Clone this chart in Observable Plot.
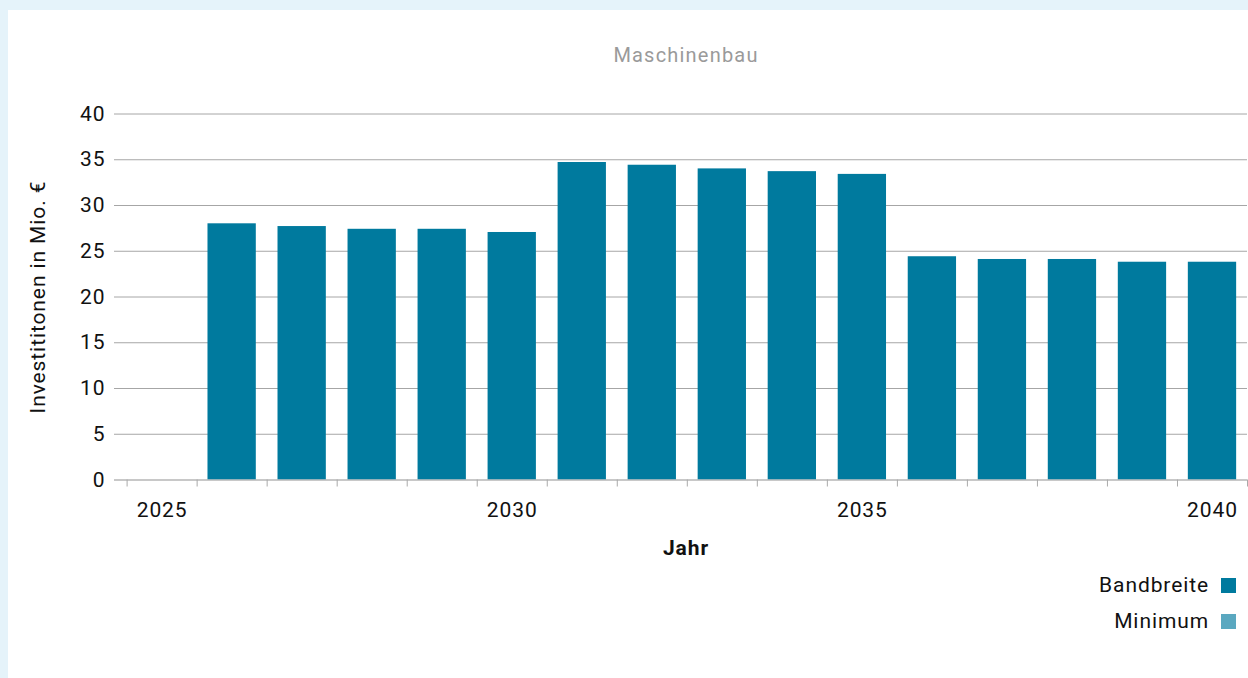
<!DOCTYPE html>
<html>
<head>
<meta charset="utf-8">
<script src="https://cdn.jsdelivr.net/npm/d3@7"></script>
<script src="https://cdn.jsdelivr.net/npm/@observablehq/plot@0.6"></script>
<style>
  html, body { margin: 0; padding: 0; }
  body { background: #e5f3fa; font-family: Roboto, "DejaVu Sans", sans-serif; width: 1248px; height: 678px; overflow: hidden; }
  #panel { position: absolute; left: 8px; top: 10px; width: 1240px; height: 668px; background: #fff; }
  #title { position: absolute; left: 528px; width: 300px; top: 35px; text-align: center; font-size: 20px; line-height: 20px; color: #9a9a9a; letter-spacing: 1.2px; }
  #chart { position: absolute; left: 0; top: 80px; }
  #legend { position: absolute; right: 12px; top: 563px; font-size: 21px; color: #111; letter-spacing: 0.9px; }
  .item { display: flex; align-items: center; justify-content: flex-end; height: 24px; margin-bottom: 12px; }
  .sw { width: 15px; height: 15px; margin-left: 12px; }
</style>
</head>
<body>
<div id="panel">
  <div id="title"></div>
  <div id="chart"></div>
  <div id="legend"></div>
</div>
<script>
const title = "Maschinenbau";
const yLabel = "Investititonen in Mio. €";
const xLabel = "Jahr";
const allYears = [2025, 2026, 2027, 2028, 2029, 2030, 2031, 2032, 2033, 2034, 2035, 2036, 2037, 2038, 2039, 2040];
const years = [2026, 2027, 2028, 2029, 2030, 2031, 2032, 2033, 2034, 2035, 2036, 2037, 2038, 2039, 2040];
const bandbreite = [28.0, 27.7, 27.4, 27.4, 27.05, 34.7, 34.4, 34.0, 33.7, 33.4, 24.4, 24.1, 24.1, 23.8, 23.8];
const yTicks = [0, 5, 10, 15, 20, 25, 30, 35, 40];
const xLabelTicks = [2025, 2030, 2035, 2040];
const legendNames = ["Bandbreite", "Minimum"];
const legendColors = ["#007a9e", "#5aa8c0"];

document.getElementById("title").textContent = title;

const data = years.map((year, i) => ({year, value: bandbreite[i]}));
const boundaries = allYears.map(y => y - 0.5).concat([allYears[allYears.length - 1] + 0.5]);
const half = 0.345;

const chart = Plot.plot({
  width: 1240,
  height: 480,
  marginLeft: 106,
  marginRight: 1,
  marginTop: 23.5,
  marginBottom: 90.5,
  style: {fontFamily: "Roboto, sans-serif", fontSize: "21px", color: "#111", background: "transparent", overflow: "visible", letterSpacing: "0.9px"},
  x: {type: "linear", domain: [2024.32, 2040.5]},
  y: {domain: [0, 40]},
  marks: [
    Plot.gridY(yTicks, {stroke: "#a6a6a6", strokeOpacity: 1}),
    Plot.rectY(data, {x1: d => d.year - half, x2: d => d.year + half, y: "value", fill: legendColors[0]}),
    Plot.ruleY([0], {stroke: "#bdbdbd"}),
    Plot.axisY(yTicks, {tickSize: 0, tickPadding: 9, label: yLabel, labelAnchor: "center", labelArrow: "none", labelOffset: 84, fontSize: 21}),
    Plot.axisX(boundaries, {tickSize: 7, text: null, stroke: "#aaa", label: null}),
    Plot.axisX(xLabelTicks, {tickSize: 0, tickPadding: 22, tickFormat: "d", label: null, fontSize: 21}),
    Plot.text([xLabel], {frameAnchor: "bottom", dx: 5, dy: 75, fontWeight: "bold", fontSize: 21, fill: "#111"})
  ]
});
document.getElementById("chart").appendChild(chart);

const legend = document.getElementById("legend");
legendNames.forEach((name, i) => {
  const item = document.createElement("div");
  item.className = "item";
  const t = document.createElement("span");
  t.textContent = name;
  const sw = document.createElement("span");
  sw.className = "sw";
  sw.style.background = legendColors[i];
  item.appendChild(t);
  item.appendChild(sw);
  legend.appendChild(item);
});
</script>
</body>
</html>
